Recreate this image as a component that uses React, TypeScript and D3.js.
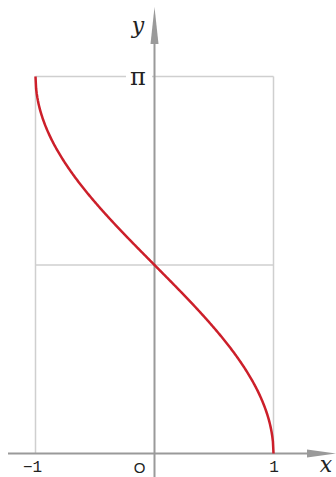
import React from "react";
import * as d3 from "d3";

// y = arccos(x) on [-1, 1]
const xDomain = [-1, 1];
const yDomain = [0, Math.PI];
const xTickValues = [-1, 1];
const xTickLabels = ["\u22121", "1"];
const yTickLabels = ["\u03c0"];
const sampleXs = d3.range(-1, 1.0001, 0.005).concat([1]);

export default function App() {
  const W = 336;
  const H = 477;
  const x = d3.scaleLinear().domain(xDomain).range([35.5, 273.5]);
  const y = d3.scaleLinear().domain(yDomain).range([453.5, 76.5]);

  const pts: [number, number][] = sampleXs.map((v) => {
    const c = Math.max(-1, Math.min(1, v));
    return [x(c), y(Math.acos(c))];
  });
  const line = d3.line<[number, number]>().curve(d3.curveLinear)(pts) || "";

  const x0 = x(0);
  const y0 = y(0);
  const grid = "#cfcfcf";
  const axis = "#9a9a9a";
  const mono = "'Liberation Mono', 'DejaVu Sans Mono', monospace";
  const serif = "'DejaVu Serif', 'Liberation Serif', serif";

  return (
    <svg
      width={W}
      height={H}
      style={{ position: "absolute", left: 0, top: 0, background: "#fff" }}
    >
      {/* grid frame */}
      <line x1={x(-1)} x2={x(1)} y1={y(Math.PI / 2)} y2={y(Math.PI / 2)} stroke={grid} strokeWidth={1.5} />
      <line x1={x(-1)} x2={x(1)} y1={y(Math.PI)} y2={y(Math.PI)} stroke={grid} strokeWidth={1.5} />
      <line x1={x(-1)} x2={x(-1)} y1={y(Math.PI)} y2={y0} stroke={grid} strokeWidth={1.5} />
      <line x1={x(1)} x2={x(1)} y1={y(Math.PI)} y2={y0} stroke={grid} strokeWidth={1.5} />

      {/* axes */}
      <line x1={8} x2={318} y1={y0} y2={y0} stroke={axis} strokeWidth={2} />
      <path d={`M${W},${y0} L${307},${y0 - 4} L${307},${y0 + 4} Z`} fill={axis} />
      <line x1={x0} x2={x0} y1={H} y2={30} stroke={axis} strokeWidth={2} />
      <path d={`M${x0},${7} L${x0 - 4},${44} L${x0 + 4},${44} Z`} fill={axis} />

      {/* π label with white backing */}
      <rect x={126} y={68} width={26} height={18} fill="#fff" />
      <text x={138} y={85} textAnchor="middle" fontFamily={serif} fontSize={24} fill="#222">
        {yTickLabels[0]}
      </text>

      {/* curve */}
      <path d={line} fill="none" stroke="#cc1f2a" strokeWidth={2.5} strokeLinejoin="round" />

      {/* x tick labels */}
      {xTickValues.map((v, i) => (
        <text key={v} x={x(v) - (v < 0 ? 3 : -0.5)} y={472} textAnchor="middle" fontFamily={mono} fontSize={16} fill="#222">
          {xTickLabels[i]}
        </text>
      ))}
      <text x={139.5} y={473} textAnchor="middle" fontFamily="'Liberation Sans', Arial, sans-serif" fontSize={15} fill="#222">
        O
      </text>

      {/* axis names */}
      <text x={326} y={472} textAnchor="middle" fontFamily={serif} fontStyle="italic" fontSize={22} fill="#222">
        x
      </text>
      <text x={138} y={33} textAnchor="middle" fontFamily={serif} fontStyle="italic" fontSize={22} fill="#222">
        y
      </text>
    </svg>
  );
}
